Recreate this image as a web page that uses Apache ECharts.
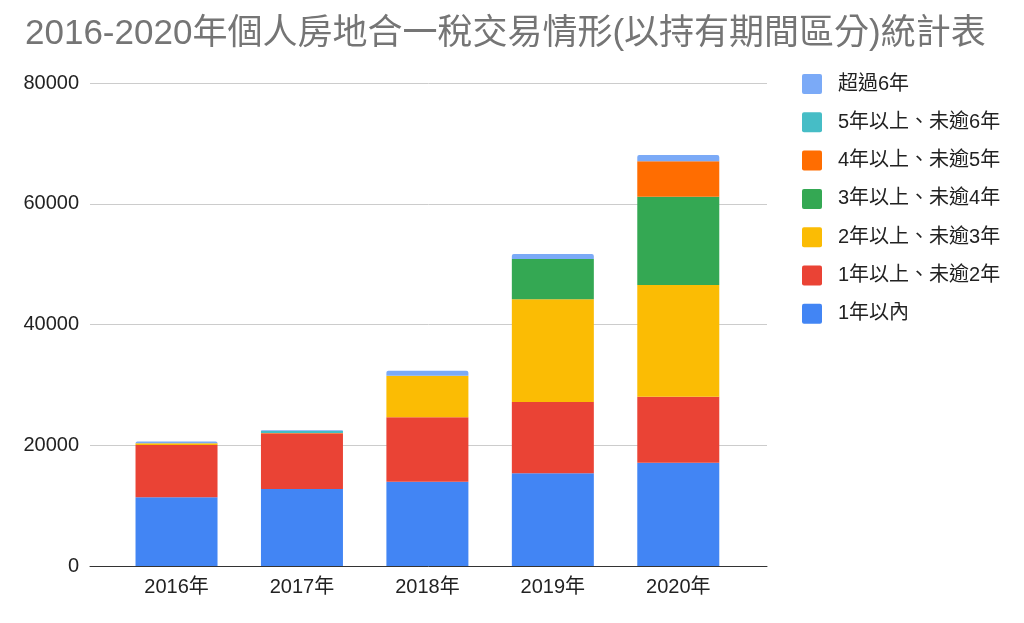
<!DOCTYPE html>
<html>
<head>
<meta charset="utf-8">
<script src="https://cdn.jsdelivr.net/npm/echarts@6/dist/echarts.min.js"></script>
<style>
    html, body {margin: 0; padding: 0; background: #fff;}
    #chart {width: 1024px; height: 623px;}
</style>
</head>
<body>
<div id="chart"></div>
<script>
let years = ["2016年", "2017年", "2018年", "2019年", "2020年"];
let yTicks = [0, 20000, 40000, 60000, 80000];

let names = ["1年以內", "1年以上、未逾2年", "2年以上、未逾3年", "3年以上、未逾4年",
    "4年以上、未逾5年", "5年以上、未逾6年", "超過6年"];
let colors = ["#4285f4", "#ea4335", "#fbbc04", "#34a853", "#ff6d01", "#46bdc6", "#7baaf7"];

let within1 = [11380, 12750, 13960, 15350, 17110];
let y1to2 = [8660, 9220, 10660, 11810, 10930];
let y2to3 = [280, 50, 6890, 17010, 18500];
let y3to4 = [0, 0, 0, 6680, 14620];
let y4to5 = [0, 0, 0, 0, 5860];
let y5to6 = [0, 330, 0, 0, 0];
let over6 = [300, 150, 830, 830, 1040];

let values = [within1, y1to2, y2to3, y3to4, y4to5, y5to6, over6];
let font = "'Liberation Sans', 'Noto Sans CJK TC', sans-serif";
// square legend swatch with slightly rounded corners
let swatch = "path://M2,0H18Q20,0 20,2V18Q20,20 18,20H2Q0,20 0,18V2Q0,0 2,0Z";

let series = names.map(function (name, i) {
    return {
        name: name,
        type: "bar",
        stack: "total",
        xAxisIndex: 1,
        yAxisIndex: 1,
        barWidth: 82,
        data: values[i],
        itemStyle: {
            color: colors[i],
            borderRadius: i === names.length - 1 ? [2, 2, 0, 0] : 0
        }
    };
});

let chart = echarts.init(document.getElementById("chart"));
chart.setOption({
    animation: false,
    textStyle: {fontFamily: font},
    title: {
        text: "2016-2020年個人房地合一稅交易情形(以持有期間區分)統計表",
        left: 20,
        top: 12,
        textStyle: {fontSize: 35, fontWeight: "normal", color: "#757575", fontFamily: font}
    },
    legend: {
        orient: "vertical",
        left: 797,
        top: 69,
        itemWidth: 20,
        itemHeight: 20,
        itemGap: 18.3,
        icon: swatch,
        data: names.slice().reverse(),
        textStyle: {fontSize: 20, color: "#222", padding: [0, 0, 0, 11], fontFamily: font}
    },
    grid: [
        // gridlines and y labels
        {left: 90, right: 257, top: 83, bottom: 57},
        // bars
        {left: 113.8, right: 283, top: 83, bottom: 57}
    ],
    xAxis: [
        {
            type: "value",
            gridIndex: 0,
            axisLine: {show: true, lineStyle: {color: "#333", width: 1}},
            axisTick: {show: false},
            axisLabel: {show: false},
            splitLine: {show: false}
        },
        {
            type: "category",
            gridIndex: 1,
            data: years,
            axisLine: {show: false},
            axisTick: {show: false},
            axisLabel: {fontSize: 20, color: "#222", margin: 11, fontFamily: font}
        }
    ],
    yAxis: [
        {
            type: "value",
            gridIndex: 0,
            min: yTicks[0],
            max: yTicks[yTicks.length - 1],
            interval: yTicks[1] - yTicks[0],
            axisLine: {show: false},
            axisTick: {show: false},
            axisLabel: {
                fontSize: 20, color: "#222", margin: 11, fontFamily: font,
                formatter: function (v) { return String(v); }
            },
            splitLine: {lineStyle: {color: "#cccccc"}}
        },
        {
            type: "value",
            gridIndex: 1,
            min: yTicks[0],
            max: yTicks[yTicks.length - 1],
            show: false
        }
    ],
    series: series
});
</script>
</body>
</html>
